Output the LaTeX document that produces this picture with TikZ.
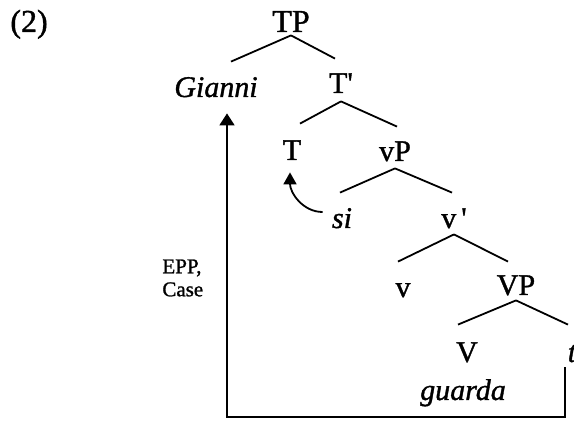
\documentclass[tikz,border=0pt]{standalone}
\usepackage{fontspec}
\setmainfont{Liberation Serif}[FakeBold=1.2]
\usetikzlibrary{calc, arrows.meta}

\begin{document}
\begin{tikzpicture}[x=0.5pt, y=-0.5pt,
    lab/.style={font=\fontsize{15}{18}\selectfont, inner sep=0pt, text height=10pt, text depth=0pt, anchor=base},
    branch/.style={line width=0.9pt},
    move/.style={line width=0.9pt, -{Triangle[width=7.5pt, length=6pt]}}]
    \clip (0,0) rectangle (574,421);
    % labels of the tree
    \node[lab, anchor=base west, font=\fontsize{16}{19}\selectfont] (ex) at (10,32) {(2)};
    \node[lab, font=\fontsize{16}{19}\selectfont] (TP) at (291,32) {TP};
    \node[lab] (Gianni) at (216,97) {\itshape Gianni};
    \node[lab] (Tbar) at (341,93) {T\textquotesingle};
    \node[lab] (T) at (292,160) {T};
    \node[lab] (vP) at (395,161) {vP};
    \node[lab] (si) at (342,228) {\itshape si};
    \node[lab] (vbar) at (454,228) {v\,\textquotesingle};
    \node[lab] (v) at (403,297) {v};
    \node[lab] (VP) at (516,295) {VP};
    \node[lab] (V) at (467,362) {V};
    \node[lab] (trace) at (572,362) {\itshape t};
    \node[lab] (guarda) at (463,400) {\itshape guarda};
    \node[anchor=west, align=left, inner sep=0pt, font=\fontsize{10.5}{11.5}\selectfont] (epp) at (162,278) {EPP,\\Case};
    % branches
    \draw[branch] ([yshift=-1.5pt]TP.south) -- ([xshift=7.5pt,yshift=7.5pt]Gianni.north);
    \draw[branch] ([yshift=-1.5pt]TP.south) -- ([xshift=-3pt,yshift=7pt]Tbar.north);
    \draw[branch] ([yshift=-4pt]Tbar.south) -- ([xshift=4pt,yshift=8pt]T.north);
    \draw[branch] ([yshift=-4pt]Tbar.south) -- ([xshift=1pt,yshift=7pt]vP.north);
    \draw[branch] ([yshift=-3.5pt]vP.south) -- ([xshift=-1pt,yshift=7.5pt]si.north);
    \draw[branch] ([yshift=-3.5pt]vP.south) -- ([xshift=-1pt,yshift=7.5pt]vbar.north);
    \draw[branch] ([yshift=-3pt]vbar.south) -- ([xshift=-2.5pt,yshift=7.5pt]v.north);
    \draw[branch] ([yshift=-3pt]vbar.south) -- ([xshift=-4pt,yshift=6.5pt]VP.north);
    \draw[branch] ([yshift=-2.5pt]VP.south) -- ([xshift=-4.5pt,yshift=8.5pt]V.north);
    \draw[branch] ([yshift=-2.5pt]VP.south) -- ([xshift=-2pt,yshift=8.5pt]trace.north);
    % movement arrows
    \coordinate (bend) at (227,417);
    \draw[move] ([xshift=-3.5pt,yshift=-2.5pt]trace.south) |- (bend) -- ($(bend |- Gianni.south)+(0,16)$);
    \draw[line width=0.9pt, -{Triangle[width=6.5pt, length=6pt]}] ([xshift=-4.5pt,yshift=3pt]si.west) to[out=180, in=-90] ([xshift=-1pt,yshift=-6pt]T.south);
\end{tikzpicture}
\end{document}
